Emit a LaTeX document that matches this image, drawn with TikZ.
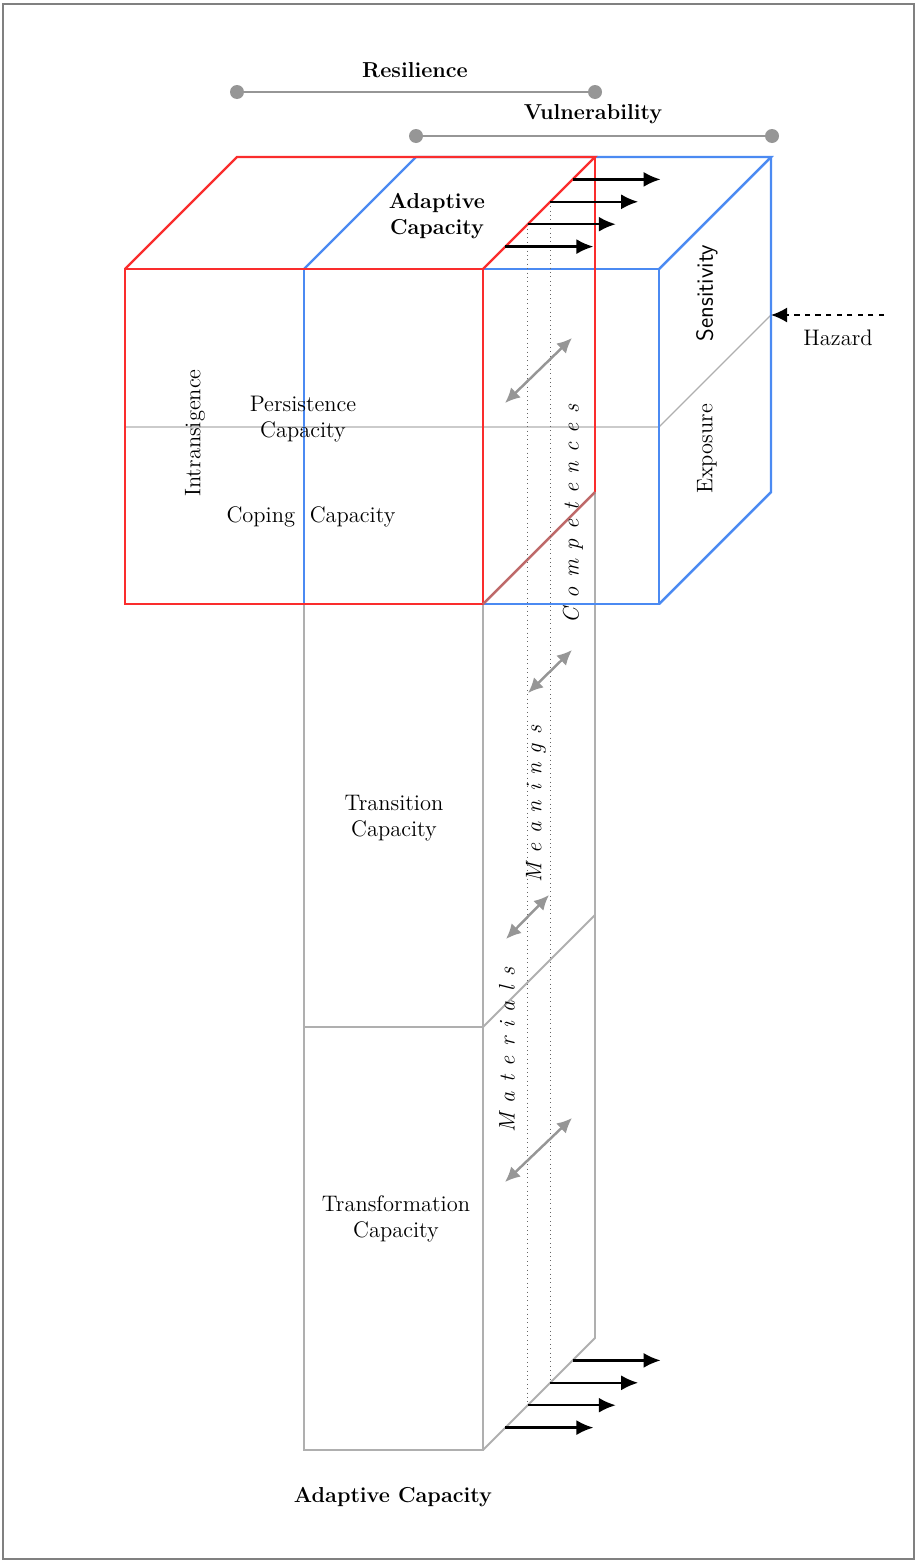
\documentclass[tikz,border=0pt]{standalone}
\usetikzlibrary{positioning,arrows.meta}
\definecolor{boxred}{RGB}{250,45,45}
\definecolor{boxblue}{RGB}{75,138,242}
\definecolor{colgray}{RGB}{175,175,175}
\definecolor{mixred}{RGB}{190,105,105}
\definecolor{bargray}{RGB}{150,150,150}

\begin{document}
\begin{tikzpicture}[x=0.02cm,y=-0.02cm,
	redline/.style={draw=boxred,line width=1.4pt},
	blueline/.style={draw=boxblue,line width=1.4pt},
	greyline/.style={draw=colgray,line width=1.1pt},
	thinline/.style={draw=colgray,line width=0.7pt},
	dotline/.style={draw=black!60,dotted,line width=0.5pt},
	dot/.style={circle,fill=bargray,inner sep=0pt,minimum size=0.28cm},
	push/.style={-{Latex[length=0.34cm,width=0.3cm]},line width=1.3pt},
	link/.style={{Latex[length=0.3cm,width=0.28cm]}-{Latex[length=0.3cm,width=0.28cm]},draw=bargray,line width=1.4pt},
	txt/.style={font=\fontsize{12.8}{15}\selectfont,align=center,inner sep=0pt},
	head/.style={font=\fontsize{12.3}{15}\selectfont\bfseries,align=center,inner sep=0pt},
	strand/.style={font={\fontsize{12.8}{15}\selectfont\itshape\spaceskip=5.3pt\relax},rotate=90,inner sep=0pt}]

	\useasboundingbox (0,0) rectangle (917,1562);
	\draw[draw=gray,line width=1pt] (3,4) rectangle (914,1559);

	\node[dot]	(r1)	at (237,92)		{};
	\node[dot]	(r2)	at (595,92)		{};
	\node[dot]	(v1)	at (416,136)	{};
	\node[dot]	(v2)	at (772,136)	{};
	\draw[bargray,line width=1.2pt] (r1) -- (r2);
	\draw[bargray,line width=1.2pt] (v1) -- (v2);
	\node[head]	(res)	at (415,70)		{Resilience};
	\node[head]	(vul)	at (593,114)	{Vulnerability};

	\coordinate (rf1) at (125,269);
	\coordinate (rf2) at (483,269);
	\coordinate (rf3) at (483,604);
	\coordinate (rf4) at (125,604);
	\coordinate (rb1) at (237,157);
	\coordinate (rb2) at (595,157);
	\coordinate (rb3) at (595,492);
	\coordinate (bf1) at (304,269);
	\coordinate (bf2) at (659,269);
	\coordinate (bf3) at (659,604);
	\coordinate (bf4) at (304,604);
	\coordinate (bb1) at (416,157);
	\coordinate (bb2) at (771,157);
	\coordinate (bb3) at (771,492);
	\coordinate (cf1) at (483,1450);
	\coordinate (cf2) at (304,1450);
	\coordinate (cb)  at (595,1338);
	\coordinate (cm1) at (304,1027);
	\coordinate (cm2) at (483,1027);
	\coordinate (cm3) at (595,915);
	\coordinate (m1)  at (125,427);
	\coordinate (m2)  at (659,427);
	\coordinate (hz)  at (771,315);
	\coordinate (hs)  at (884,315);

	\draw[greyline] (bf4) -- (cf2) -- (cf1) -- (rf3);
	\draw[greyline] (cf1) -- (cb) -- (rb3);
	\draw[greyline] (cm1) -- (cm2) -- (cm3);
	\draw[thinline] (m1) -- (m2) -- (hz);

	\draw[blueline] (bf1) rectangle (bf3);
	\draw[blueline] (bf1) -- (bb1) -- (bb2) -- (bf2);
	\draw[blueline] (bb2) -- (bb3) -- (bf3);

	\draw[redline] (rf1) rectangle (rf3);
	\draw[redline] (rf1) -- (rb1) -- (rb2) -- (rf2);
	\draw[redline] (rb2) -- (rb3);
	\draw[mixred,line width=1.4pt] (rf3) -- (rb3);

	\foreach \i in {1,...,4} {
		\coordinate (t\i)  at (483+22.4*\i,269-22.4*\i);
		\coordinate (te\i) at (571+22.4*\i,269-22.4*\i);
		\coordinate (b\i)  at (483+22.4*\i,1450-22.4*\i);
		\coordinate (be\i) at (571+22.4*\i,1450-22.4*\i);
	}
	\draw[dotline] (t2) -- (b2);
	\draw[dotline] (t3) -- (b3);
	\foreach \i in {1,...,4} {
		\draw[push] (t\i) -- (te\i);
		\draw[push] (b\i) -- (be\i);
	}

	\coordinate (a1) at (505,403);
	\coordinate (a2) at (572,338);
	\coordinate (a3) at (528,693);
	\coordinate (a4) at (572,650);
	\coordinate (a5) at (506,939);
	\coordinate (a6) at (549,895);
	\coordinate (a7) at (505,1182);
	\coordinate (a8) at (572,1118);
	\draw[link] (a1) -- (a2);
	\draw[link] (a3) -- (a4);
	\draw[link] (a5) -- (a6);
	\draw[link] (a7) -- (a8);

	\draw[dashed,-{Latex[length=0.32cm,width=0.3cm]},line width=1.1pt] (hs) -- (hz);

	\node[head]				(ac1)	at (437,216)	{Adaptive\\Capacity};
	\node[txt,rotate=90]	(int)	at (195,433)	{Intransigence};
	\node[txt]				(per)	at (303,419)	{Persistence\\Capacity};
	\node[txt]				(cop)	at (311,517)	{Coping\ \ Capacity};
	\node[txt,font=\fontsize{13.3}{15}\selectfont\sffamily,rotate=90]	(sen)	at (707,293)	{Sensitivity};
	\node[txt,rotate=90]	(exp)	at (707,449)	{Exposure};
	\node[txt]				(haz)	at (838,338)	{Hazard};
	\node[strand]			(com)	at (573,514)	{C o m p e t e n c e s};
	\node[strand]			(mea)	at (536,804)	{M e a n i n g s};
	\node[strand]			(mat)	at (507,1050)	{M a t e r i a l s};
	\node[txt]				(tra)	at (394,818)	{Transition\\Capacity};
	\node[txt]				(tfm)	at (396,1219)	{Transformation\\Capacity};
	\node[head]				(ac2)	at (393,1497)	{Adaptive Capacity};
\end{tikzpicture}
\end{document}
